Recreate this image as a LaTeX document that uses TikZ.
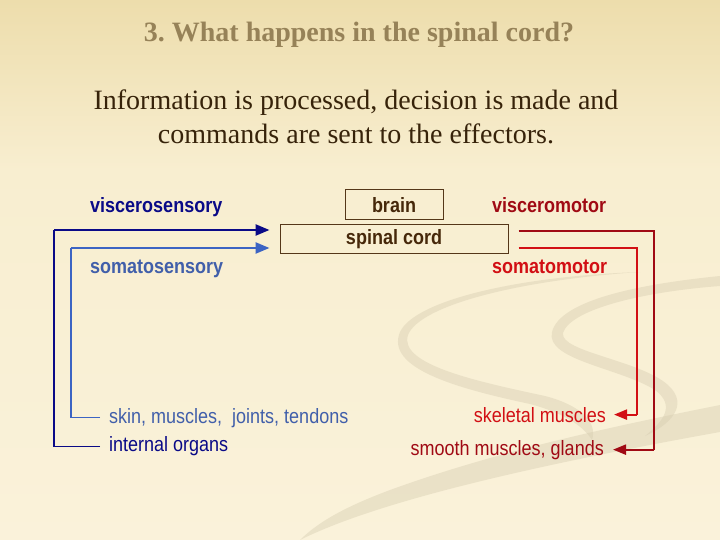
\documentclass[tikz,border=0pt]{standalone}
\usepackage{fontspec}
\usepackage{graphicx}
\setmainfont{Liberation Serif}
\setsansfont{Liberation Sans}
\usetikzlibrary{arrows.meta}
\frenchspacing
\definecolor{bgtop}{RGB}{237,221,172}
\definecolor{bgmid}{RGB}{248,238,208}
\definecolor{bgbot}{RGB}{250,242,218}
\definecolor{swoosh}{RGB}{214,204,176}
\definecolor{titlec}{RGB}{150,130,88}
\definecolor{subc}{RGB}{55,35,10}
\definecolor{navy}{RGB}{10,10,135}
\definecolor{steel}{RGB}{65,95,170}
\definecolor{lblue}{RGB}{60,100,195}
\definecolor{brownt}{RGB}{70,40,10}
\definecolor{boxc}{RGB}{85,55,25}
\definecolor{dred}{RGB}{160,10,20}
\definecolor{bred}{RGB}{210,15,20}
\newcommand{\vst}[1]{\scalebox{1}[1.15]{#1}}
\tikzset{
  lbl/.style={font=\sffamily\fontsize{18}{20}\selectfont, inner sep=0pt},
  boxn/.style={draw=boxc, line width=1pt, text=brownt, inner sep=0pt,
    font=\sffamily\bfseries\fontsize{18}{20}\selectfont},
  thinln/.style={line width=1.2pt},
  arrln/.style={line width=2.4pt, -{Triangle[length=14pt,width=11pt]}},
  arrlnr/.style={line width=2.2pt, -{Triangle[length=13pt,width=10pt]}},
  sw/.style={fill=swoosh, fill opacity=0.42},
}
\begin{document}
\begin{tikzpicture}[x=1pt,y=-1pt]
\useasboundingbox (0,0) rectangle (720,540);
% background
\shade[top color=bgtop, bottom color=bgmid] (0,0) rectangle (720,170);
\shade[top color=bgmid, bottom color=bgbot] (0,170) rectangle (720,540);
% decorative swooshes
\fill[sw] (640,272) .. controls (520,280) and (420,305) .. (408,335)
  .. controls (398,365) and (480,382) .. (545,396)
  .. controls (580,405) and (598,422) .. (592,440)
  .. controls (582,424) and (560,412) .. (530,404)
  .. controls (455,388) and (385,368) .. (400,332)
  .. controls (415,300) and (520,276) .. (640,272) -- cycle;
\fill[sw] (720,286) .. controls (640,292) and (570,310) .. (563,333)
  .. controls (560,352) and (640,360) .. (668,385)
  .. controls (690,405) and (670,425) .. (645,436)
  .. controls (665,420) and (675,405) .. (655,390)
  .. controls (620,368) and (545,360) .. (552,332)
  .. controls (560,300) and (640,284) .. (720,276) -- cycle;
\fill[sw] (720,405) .. controls (620,425) and (500,450) .. (390,490)
  .. controls (350,505) and (320,520) .. (300,540)
  .. controls (360,510) and (480,475) .. (720,432) -- cycle;
% title and subtitle
\node[anchor=base, inner sep=0pt, text=titlec, font=\rmfamily\bfseries\fontsize{28}{34}\selectfont] (title) at (359,41.7) {3. What happens in the spinal cord?};
\node[anchor=base, inner sep=0pt, text=subc, font=\rmfamily\fontsize{28}{34}\selectfont] (sub1) at (356,109.3) {Information is processed, decision is made and};
\node[anchor=base, inner sep=0pt, text=subc, font=\rmfamily\fontsize{28}{34}\selectfont] (sub2) at (356,143.3) {commands are sent to the effectors.};
% boxes
\node[boxn, minimum width=98pt, minimum height=30pt] (brain) at (394,205) {\vst{brain}};
\node[boxn, minimum width=228pt, minimum height=28pt] (sc) at (394,239) {\vst{spinal cord}};
% labels
\node[lbl, anchor=base west, text=navy, font=\sffamily\bfseries\fontsize{18}{20}\selectfont] (vs) at (90,212) {\vst{viscerosensory}};
\node[lbl, anchor=base west, text=steel, font=\sffamily\bfseries\fontsize{18}{20}\selectfont] (ss) at (90,273) {\vst{somatosensory}};
\node[lbl, anchor=base west, text=dred, font=\sffamily\bfseries\fontsize{18}{20}\selectfont] (vm) at (492,212) {\vst{visceromotor}};
\node[lbl, anchor=base west, text=bred, font=\sffamily\bfseries\fontsize{18}{20}\selectfont] (sm) at (492,273) {\vst{somatomotor}};
\node[lbl, anchor=base west, text=steel] (sk) at (109,423) {\vst{skin, muscles,~ joints, tendons}};
\node[lbl, anchor=base west, text=navy] (io) at (109,451.7) {\vst{internal organs}};
\node[lbl, anchor=base east, text=bred] (skm) at (606,422) {\vst{skeletal muscles}};
\node[lbl, anchor=base east, text=dred] (smg) at (604,455) {\vst{smooth muscles, glands}};
% sensory connectors
\coordinate (nc) at (54,230);
\coordinate (lc) at (71,248);
\draw[navy, thinln] ([xshift=-9pt]io.west) -| (nc);
\draw[navy, arrln] (nc) -- ([xshift=-10pt,yshift=9pt]sc.west);
\draw[lblue, thinln] ([xshift=-9pt]sk.west) -| (lc);
\draw[lblue, arrln] (lc) -- ([xshift=-10pt,yshift=-9pt]sc.west);
% motor connectors
\coordinate (ro) at (654,455);
\coordinate (ri) at (637,416);
\draw[dred, thinln] ([xshift=10pt,yshift=8pt]sc.east) -| (ro |- smg.east);
\draw[dred, arrlnr] (ro |- smg.east) -- ([xshift=9pt]smg.east);
\draw[bred, thinln] ([xshift=10pt,yshift=-9pt]sc.east) -| (ri |- skm.east);
\draw[bred, arrlnr] (ri |- skm.east) -- ([xshift=8pt]skm.east);
\end{tikzpicture}
\end{document}
